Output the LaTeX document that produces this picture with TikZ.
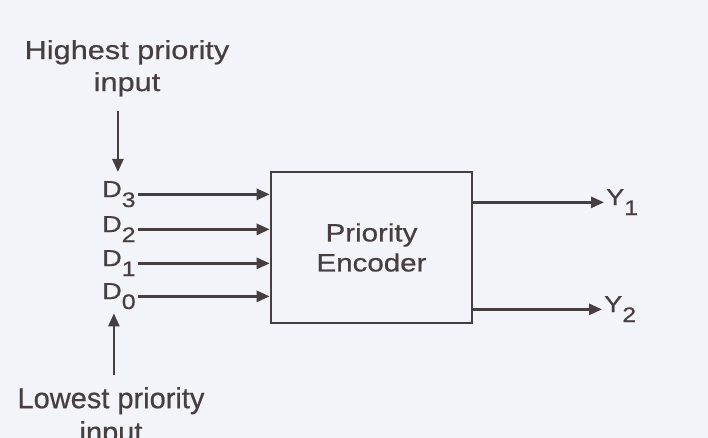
\documentclass[tikz,border=0pt]{standalone}
\usepackage{fontspec}
\setmainfont[FakeBold=0.6]{Liberation Sans}
\newfontfamily\widesans[FakeStretch=1.18,FakeBold=0.6]{Liberation Sans}
\usetikzlibrary{arrows.meta,positioning}
\definecolor{inkgray}{RGB}{70,62,64}
\definecolor{paperbg}{RGB}{243,244,250}
\newcommand{\lowsub}[1]{\raisebox{-10pt}{\fontsize{21}{21}\selectfont #1}}

\begin{document}
\begin{tikzpicture}[
    x=1pt, y=-1pt,
    every node/.style={font=\widesans\fontsize{23}{30}\selectfont, text=inkgray},
    pin/.style={inner sep=2pt, anchor=base west},
    note/.style={inner sep=0pt, anchor=north, align=center},
    arr/.style={-{Triangle[length=13pt,width=11pt]}, line width=2.6pt, draw=inkgray},
    box/.style={draw=inkgray, line width=2.6pt, minimum width=201pt, minimum height=151pt, align=center}
  ]
    \fill[paperbg] (0,0) rectangle (708,438);
    \clip (0,0) rectangle (708,438);

    \node[box, font=\widesans\fontsize{25}{30}\selectfont] (enc) at (371.5,247.5) {Priority\\Encoder};

    % inputs
    \node[pin] (d3) at (100,197) {D\lowsub{3}};
    \node[pin] (d2) at (100,232) {D\lowsub{2}};
    \node[pin] (d1) at (100,266) {D\lowsub{1}};
    \node[pin] (d0) at (100,299) {D\lowsub{0}};

    % outputs
    \node[pin] (y1) at (604,205) {Y\lowsub{1}};
    \node[pin] (y2) at (602,312) {Y\lowsub{2}};

    \node[note, font=\widesans\fontsize{26}{32}\selectfont] (hi) at (127,40) {Highest priority\\input};
    \node[note, font=\rmfamily\fontsize{29}{34}\selectfont] (lo) at (111,387) {Lowest priority\\input};

    \draw[arr] (d3.mid east) -- (d3.mid east -| enc.west);
    \draw[arr] (d2.mid east) -- (d2.mid east -| enc.west);
    \draw[arr] (d1.mid east) -- (d1.mid east -| enc.west);
    \draw[arr] (d0.mid east) -- (d0.mid east -| enc.west);

    \draw[arr] (enc.east |- y1.mid west) -- (y1.mid west);
    \draw[arr] (enc.east |- y2.mid west) -- (y2.mid west);

    \draw[arr, shorten <=14pt, shorten >=7pt] ([xshift=-1pt]hi.south -| d3.north) -- ([xshift=-1pt]d3.north);
    \draw[arr, shorten <=12pt, shorten >=2pt] ([xshift=-5pt]lo.north -| d0.south) -- ([xshift=-5pt]d0.south);
  \end{tikzpicture}
\end{document}
